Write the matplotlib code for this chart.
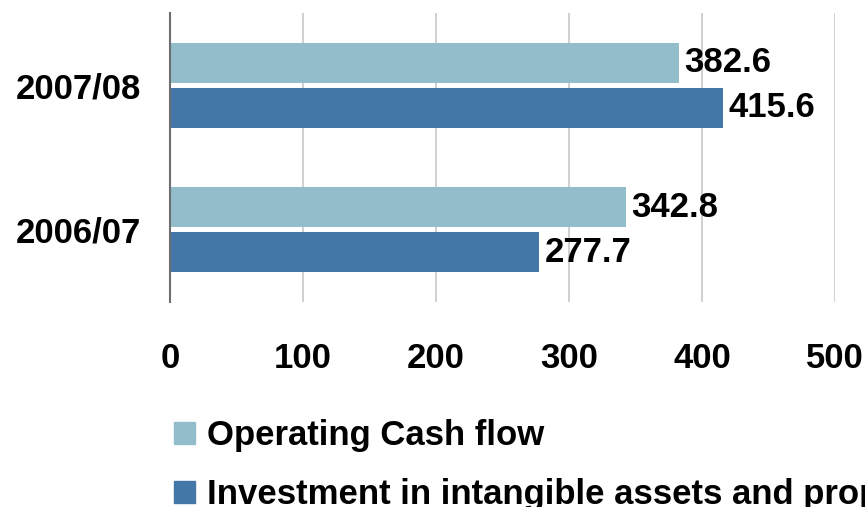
import matplotlib.pyplot as plt
import matplotlib.patches as mpatches
import numpy as np

# data
categories = ["2006/07", "2007/08"]
operating_cash = [342.8, 382.6]
investment = [277.7, 415.6]
series_labels = ["Operating Cash flow",
                 "Investment in intangible assets and property, plant and equipment"]
x_ticks = [0, 100, 200, 300, 400, 500]

LIGHT = "#94BDCB"
DARK = "#4377A7"
FS = 25

plt.rcParams["font.family"] = ["Liberation Sans", "DejaVu Sans"]
plt.rcParams["font.weight"] = "bold"

fig = plt.figure(figsize=(8.65, 5.07), dpi=100)
ax = fig.add_axes([170 / 865, 1 - 302 / 507, 665 / 865, 289 / 507])

y = np.arange(len(categories))
h = 0.277
off = 0.156
b1 = ax.barh(y + off, operating_cash, height=h, color=LIGHT, zorder=3)
b2 = ax.barh(y - off, investment, height=h, color=DARK, zorder=3)
for bars in (b1, b2):
    ax.bar_label(bars, labels=[f"{v:.1f}" for v in bars.datavalues],
                 padding=4, fontsize=FS, fontweight="bold", color="black")

ax.set_xlim(0, 500)
ax.set_ylim(-0.5, 1.5)
ax.set_xticks(x_ticks)
ax.set_xticklabels([str(t) for t in x_ticks], fontsize=FS, fontweight="bold")
ax.set_yticks(y)
ax.set_yticklabels(categories, fontsize=FS, fontweight="bold")
ax.tick_params(axis="x", length=0, pad=29)
ax.tick_params(axis="y", length=0, pad=21)

ax.grid(axis="x", color="#C8C8C8", linewidth=1.2, zorder=0)
for s in ("top", "right", "bottom"):
    ax.spines[s].set_visible(False)
ax.spines["left"].set_color("#6E6E6E")
ax.spines["left"].set_linewidth(1.5)
ax.spines["left"].set_zorder(4)

handles = [mpatches.Patch(color=LIGHT), mpatches.Patch(color=DARK)]
fig.legend(handles, series_labels, loc="upper left",
           bbox_to_anchor=(174 / 865, 1 - 419 / 507), frameon=False,
           prop={"size": FS, "weight": "bold"},
           handlelength=0.6, handleheight=0.6, handletextpad=0.35,
           labelspacing=0.75, borderpad=0, borderaxespad=0)

fig.savefig("out.png", dpi=100)
